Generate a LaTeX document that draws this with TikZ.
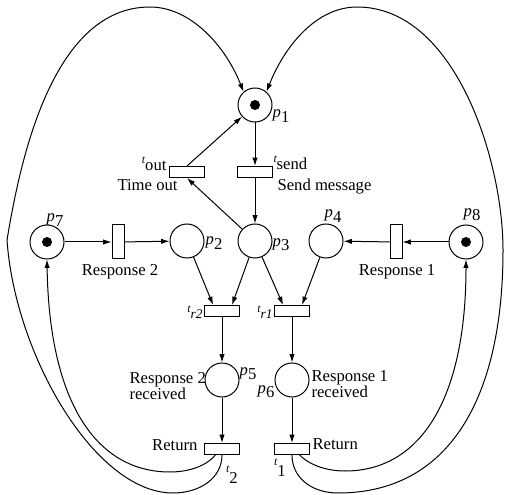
\documentclass[tikz,border=0pt]{standalone}
\usepackage{fontspec}
\setmainfont{Liberation Serif}
\usetikzlibrary{arrows.meta}
\newcommand{\tlab}[2][1ex]{\raisebox{#1}{\scriptsize\itshape t}#2}
\newcommand{\plab}[1]{\textit{p}\raisebox{-0.55ex}{#1}}
\begin{document}
\begin{tikzpicture}[x=0.6pt,y=-0.6pt,line width=0.6pt,
  >={Latex[length=5pt,width=3.2pt]},
  place/.style={circle,draw,minimum size=20.4pt,inner sep=0pt},
  htrans/.style={rectangle,draw,minimum width=21pt,minimum height=6.6pt,inner sep=0pt},
  vtrans/.style={rectangle,draw,minimum width=7.2pt,minimum height=20.4pt,inner sep=0pt},
  token/.style={circle,fill,minimum size=6pt,inner sep=0pt},
  lab/.style={inner sep=0pt,font=\fontsize{10}{9.5}\selectfont},
  arc/.style={->}]
\useasboundingbox (0,0) rectangle (505,495);
% places
\node[place] (p1) at (255,105) {};
\node[token] (k1) at (p1.center) {};
\node[place] (p2) at (187,241) {};
\node[place] (p3) at (255,241) {};
\node[place] (p4) at (326,241) {};
\node[place] (p7) at (47,242) {};
\node[token] (k7) at (p7.center) {};
\node[place] (p8) at (466,242) {};
\node[token] (k8) at (p8.center) {};
\node[place] (p5) at (222,380) {};
\node[place] (p6) at (292,380) {};
% transitions
\node[htrans] (tout) at (187,172) {};
\node[htrans] (tsend) at (255,172) {};
\node[vtrans] (rs2) at (118,242) {};
\node[vtrans] (rs1) at (396,242) {};
\node[htrans] (tr2) at (222,311) {};
\node[htrans] (tr1) at (292,311) {};
\node[htrans] (t2) at (222,449) {};
\node[htrans] (t1) at (292,449) {};
% straight arcs
\draw[arc] (p1) -- (tsend);
\draw[arc] (tsend) -- (p3);
\draw[arc] (p3) -- (tout.south);
\draw[arc] (tout.north) -- (p1);
\draw[arc] (p7) -- (rs2);
\draw[arc] (rs2) -- (p2);
\draw[arc] (p8) -- (rs1);
\draw[arc] (rs1) -- (p4);
\draw[arc] (p2) -- (tr2.146);
\draw[arc] (p3) -- (tr2.31);
\draw[arc] (p3) -- (tr1.146);
\draw[arc] (p4) -- (tr1.31);
\draw[arc] (tr2) -- (p5);
\draw[arc] (tr1) -- (p6);
\draw[arc] (p5) -- (t2);
\draw[arc] (p6) -- (t1);
% inner return arcs
\draw[arc] (t2.222) .. controls (210,462) and (195,472) .. (170,472)
  .. controls (95,472) and (49,400) .. (p7.south);
\draw[arc] (t1.322) .. controls (306,462) and (322,471) .. (345,471)
  .. controls (420,471) and (466,400) .. (p8.south);
% outer return arcs
\draw[arc] (t2.south) .. controls (222,478) and (200,493) .. (173,493)
  .. controls (95,493) and (15,355) .. (7,240)
  .. controls (19,168) and (50,7) .. (150,7)
  .. controls (190,7) and (225,45) .. (p1.131);
\draw[arc] (t1.south) .. controls (292,478) and (312,493) .. (338,493)
  .. controls (448,493) and (503,400) .. (503,250)
  .. controls (503,160) and (455,7) .. (357,7)
  .. controls (317,7) and (285,45) .. (p1.49);
% labels
\node[lab] (lp1) at (281,116) {\plab{1}};
\node[lab,anchor=base east] (ltout) at (167,171) {\tlab{out}};
\node[lab,anchor=base west] (ltime) at (117,191) {Time out};
\node[lab,anchor=base west] (ltsend) at (273,170) {\tlab{send}};
\node[lab,anchor=base west] (lsend) at (277,191) {Send message};
\node[lab] (lp2) at (214,243) {\plab{2}};
\node[lab] (lp3) at (281,245) {\plab{3}};
\node[lab] (lp4) at (333,216) {\plab{4}};
\node[lab] (lp7) at (55,220) {\plab{7}};
\node[lab] (lp8) at (472,215) {\plab{8}};
\node[lab] (lrs2) at (120,272) {Response 2};
\node[lab] (lrs1) at (397,272) {Response 1};
\node[lab,anchor=east] (ltr2) at (203,312) {\tlab[0.8ex]{\footnotesize\itshape r2}};
\node[lab,anchor=east] (ltr1) at (273,312) {\tlab[0.8ex]{\footnotesize\itshape r1}};
\node[lab] (lp5) at (248,374) {\plab{5}};
\node[lab] (lp6) at (266,392) {\plab{6}};
\node[lab,anchor=west,align=left] (lrec2) at (129,386) {Response 2\\received};
\node[lab,anchor=west,align=left] (lrec1) at (311,384) {Response 1\\received};
\node[lab,anchor=base east] (lret2) at (198,450) {Return};
\node[lab,anchor=base west] (lret1) at (312,449) {Return};
\node[lab] (lt2) at (232,475) {\tlab[1.4ex]{2}};
\node[lab] (lt1) at (280,468) {\tlab[1.4ex]{1}};
\end{tikzpicture}
\end{document}
